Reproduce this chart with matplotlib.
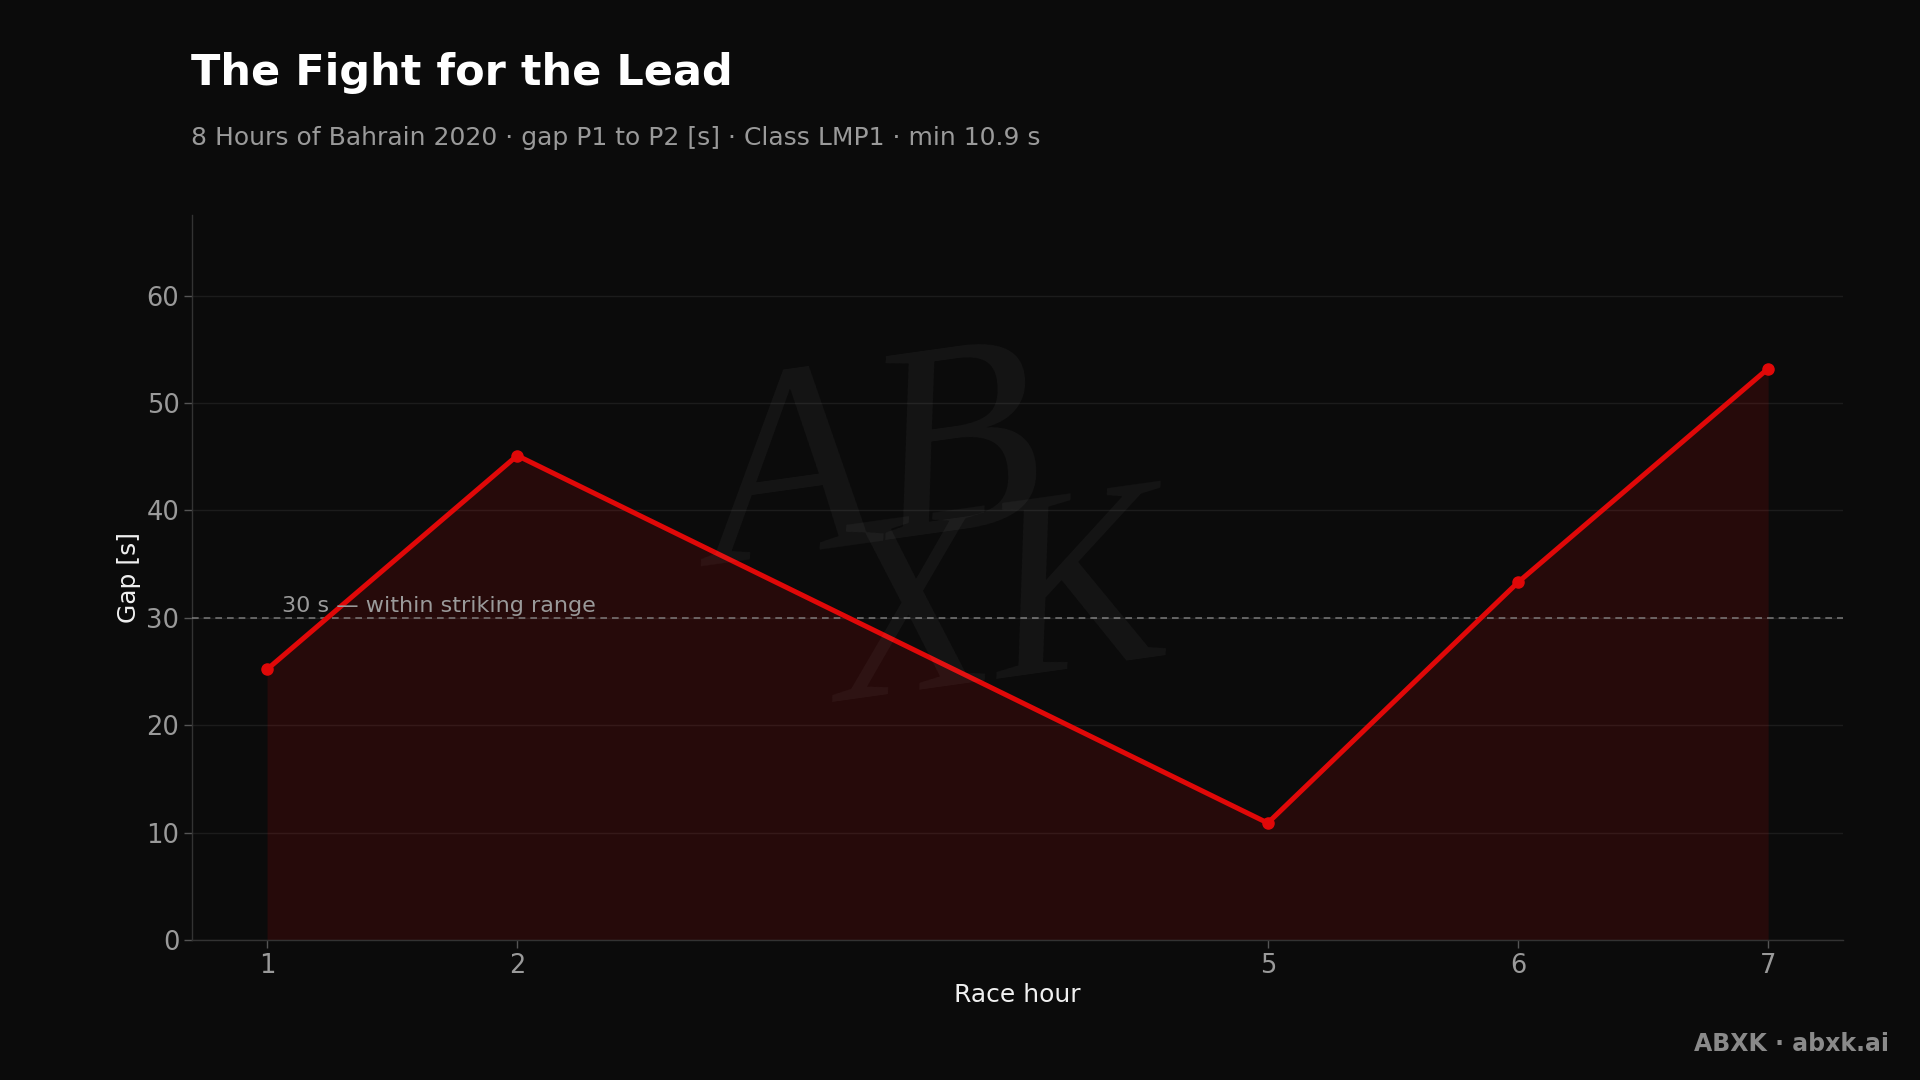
import matplotlib
matplotlib.use("Agg")
import matplotlib.pyplot as plt

# Data
race_hour = [1, 2, 5, 6, 7]
gap_s = [25.2, 45.1, 10.9, 33.3, 53.2]
y_ticks = [0, 10, 20, 30, 40, 50, 60]
threshold = 30

title = "The Fight for the Lead"
subtitle = "8 Hours of Bahrain 2020 \u00b7 gap P1 to P2 [s] \u00b7 Class LMP1 \u00b7 min 10.9 s"
threshold_label = "30 s \u2014 within striking range"

BG = "#0b0b0b"
RED = "#e00808"

plt.rcParams['font.family'] = ['DejaVu Sans']
fig = plt.figure(figsize=(19.2, 10.8), dpi=100, facecolor=BG)
ax = fig.add_axes([0.100, 0.1295, 0.860, 0.6715])
ax.set_facecolor(BG)

ax.fill_between(race_hour, gap_s, 0, color=RED, alpha=0.13, linewidth=0, zorder=2)
ax.plot(race_hour, gap_s, color=RED, linewidth=3.6, marker='o', markersize=8, zorder=4,
        solid_capstyle='round', solid_joinstyle='round')

ax.axhline(threshold, color='#8a8a8a', linestyle=(0, (4, 3)), linewidth=1.2, alpha=0.8, zorder=3)
ax.text(1.06, threshold + 0.2, threshold_label, color='#9a9a9a', fontsize=16,
        ha='left', va='bottom', zorder=5)

ax.set_xlim(0.7, 7.3)
ax.set_ylim(0, 67.5)
ax.set_xticks(race_hour)
ax.set_xticklabels([str(h) for h in race_hour])
ax.set_yticks(y_ticks)

ax.grid(axis='y', color='#ffffff', alpha=0.07, linewidth=1.0, zorder=0)
ax.grid(axis='x', visible=False)
ax.set_axisbelow(True)

for s in ['top', 'right']:
    ax.spines[s].set_visible(False)
for s in ['left', 'bottom']:
    ax.spines[s].set_color('#333333')
    ax.spines[s].set_linewidth(1.0)

ax.tick_params(axis='both', colors='#555555', labelcolor='#9a9a9a', labelsize=18.5,
               length=6, width=1, pad=3)

ax.set_xlabel("Race hour", color='#f0f0f0', fontsize=18, labelpad=3)
ax.set_ylabel("Gap [s]", color='#f0f0f0', fontsize=18, labelpad=4)

# watermark (handwritten-style monogram approximation)
fig.text(0.455, 0.56, "AB", fontsize=200, fontstyle='italic', family='Liberation Serif',
         color='#ffffff', alpha=0.045, ha='center', va='center', rotation=8, zorder=6)
fig.text(0.52, 0.43, "XK", fontsize=190, fontstyle='italic', family='Liberation Serif',
         color='#ffffff', alpha=0.045, ha='center', va='center', rotation=8, zorder=6)

fig.text(0.0995, 0.932, title, color='#ffffff', fontsize=31, fontweight='bold',
         ha='left', va='center')
fig.text(0.0995, 0.872, subtitle, color='#9a9a9a', fontsize=18,
         ha='left', va='center')
fig.text(0.984, 0.033, "ABXK \u00b7 abxk.ai", color='#8a8a8a', fontsize=17,
         fontweight='bold', ha='right', va='center')

fig.savefig("out.png", dpi=100, facecolor=BG)
